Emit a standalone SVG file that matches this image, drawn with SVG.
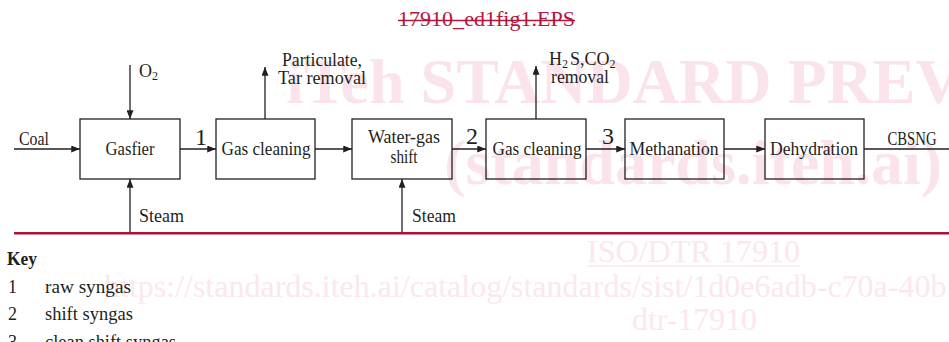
<svg xmlns="http://www.w3.org/2000/svg" width="949" height="342" viewBox="0 0 949 342">
<style>
.wm{font-family:"Liberation Serif","Times New Roman",serif;fill:#fae3ea;font-weight:bold;font-size:64px}
.wm2{font-family:"Liberation Serif","Times New Roman",serif;fill:#fce7ed;font-size:32px}
.t{font-family:"Liberation Serif","Times New Roman",serif;fill:#231f20;font-size:18px}
.num{font-family:"Liberation Serif","Times New Roman",serif;fill:#231f20;font-size:24px}
.box{fill:none;stroke:#231f20;stroke-width:1.3}
.ln{fill:none;stroke:#231f20;stroke-width:1.3}
</style>
<defs>
<marker id="ah" viewBox="0 0 10 8" refX="10" refY="4" markerWidth="9" markerHeight="7" markerUnits="userSpaceOnUse" orient="auto">
<path d="M0,0 L10,4 L0,8 Z" fill="#231f20"/>
</marker>
</defs>
<rect width="949" height="342" fill="#ffffff"/>
<g id="watermark">
<text class="wm" x="286" y="103">iTeh STANDARD PREVIEW</text>
<text class="wm" x="942" y="184" text-anchor="end">(standards.iteh.ai)</text>
<text class="wm2" x="587" y="262" textLength="213" lengthAdjust="spacingAndGlyphs">ISO/DTR 17910</text>
<line x1="587" y1="266" x2="800" y2="266" stroke="#fce7ed" stroke-width="1.5"/>
<text class="wm2" x="104" y="297">https://standards.iteh.ai/catalog/standards/sist/1d0e6adb-c70a-40b</text>
<text class="wm2" x="632" y="330" textLength="125" lengthAdjust="spacingAndGlyphs">dtr-17910</text>
</g>
<g id="title">
<text x="398" y="26" textLength="177" lengthAdjust="spacingAndGlyphs" style="font-family:'Liberation Serif',serif;font-size:20px;fill:#b5153d">17910_ed1fig1.EPS</text>
<line x1="398" y1="20.5" x2="575" y2="20.5" stroke="#b5153d" stroke-width="1.5"/>
</g>
<g id="connectors">
<line class="ln" x1="14" y1="149" x2="80" y2="149" marker-end="url(#ah)"/>
<line class="ln" x1="180" y1="149" x2="216" y2="149" marker-end="url(#ah)"/>
<line class="ln" x1="315" y1="149" x2="352" y2="149" marker-end="url(#ah)"/>
<line class="ln" x1="452" y1="149" x2="486" y2="149" marker-end="url(#ah)"/>
<line class="ln" x1="586" y1="149" x2="625" y2="149" marker-end="url(#ah)"/>
<line class="ln" x1="724" y1="149" x2="765" y2="149" marker-end="url(#ah)"/>
<line class="ln" x1="864" y1="149" x2="949" y2="149"/>
<line class="ln" x1="130" y1="65" x2="130" y2="119" marker-end="url(#ah)"/>
<line class="ln" x1="265" y1="119" x2="265" y2="67" marker-end="url(#ah)"/>
<line class="ln" x1="536" y1="119" x2="536" y2="66" marker-end="url(#ah)"/>
<line class="ln" x1="130" y1="232" x2="130" y2="179" marker-end="url(#ah)"/>
<line class="ln" x1="402" y1="232" x2="402" y2="179" marker-end="url(#ah)"/>
</g>
<g id="labels">
<text class="t" x="19" y="145" textLength="30" lengthAdjust="spacingAndGlyphs">Coal</text>
<text class="t" x="139" y="77">O<tspan font-size="12" dy="3">2</tspan></text>
<text class="t" x="322" y="66" text-anchor="middle" textLength="80" lengthAdjust="spacingAndGlyphs">Particulate,</text>
<text class="t" x="322" y="84" text-anchor="middle" textLength="88" lengthAdjust="spacingAndGlyphs">Tar removal</text>
<text class="t" x="549" y="65">H<tspan font-size="12" dy="3">2</tspan><tspan dy="-3" dx="2">S,CO</tspan><tspan font-size="12" dy="3">2</tspan></text>
<text class="t" x="580" y="83" text-anchor="middle" textLength="58" lengthAdjust="spacingAndGlyphs">removal</text>
<text class="t" x="139" y="222" textLength="45" lengthAdjust="spacingAndGlyphs">Steam</text>
<text class="t" x="412" y="222" textLength="44" lengthAdjust="spacingAndGlyphs">Steam</text>
<text class="t" x="912" y="145" text-anchor="middle" textLength="49" lengthAdjust="spacingAndGlyphs">CBSNG</text>
<text class="num" x="201" y="145" text-anchor="middle">1</text>
<text class="num" x="472" y="144" text-anchor="middle">2</text>
<text class="num" x="608" y="144" text-anchor="middle">3</text>
</g>
<g id="gasfier">
<rect class="box" x="80" y="119" width="100" height="60"/>
<text class="t" x="130" y="155" text-anchor="middle" textLength="49" lengthAdjust="spacingAndGlyphs">Gasfier</text>
</g>
<g id="gas-cleaning-1">
<rect class="box" x="216" y="119" width="99" height="60"/>
<text class="t" x="266" y="155" text-anchor="middle" textLength="89" lengthAdjust="spacingAndGlyphs">Gas cleaning</text>
</g>
<g id="water-gas-shift">
<rect class="box" x="352" y="119" width="100" height="60"/>
<text class="t" x="404" y="143" text-anchor="middle" textLength="72" lengthAdjust="spacingAndGlyphs">Water-gas</text>
<text class="t" x="404" y="163" text-anchor="middle" textLength="27" lengthAdjust="spacingAndGlyphs">shift</text>
</g>
<g id="gas-cleaning-2">
<rect class="box" x="486" y="119" width="100" height="60"/>
<text class="t" x="537" y="155" text-anchor="middle" textLength="89" lengthAdjust="spacingAndGlyphs">Gas cleaning</text>
</g>
<g id="methanation">
<rect class="box" x="625" y="119" width="99" height="60"/>
<text class="t" x="674" y="155" text-anchor="middle" textLength="89" lengthAdjust="spacingAndGlyphs">Methanation</text>
</g>
<g id="dehydration">
<rect class="box" x="765" y="119" width="99" height="60"/>
<text class="t" x="814" y="155" text-anchor="middle" textLength="88" lengthAdjust="spacingAndGlyphs">Dehydration</text>
</g>
<line id="rule" x1="14" y1="233.3" x2="949" y2="233.3" stroke="#b0103b" stroke-width="2.5"/>
<g id="key">
<text class="t" x="7" y="265" font-weight="bold" textLength="30" lengthAdjust="spacingAndGlyphs">Key</text>
<text class="t" x="8" y="293">1</text>
<text class="t" x="45" y="293" textLength="86" lengthAdjust="spacingAndGlyphs">raw syngas</text>
<text class="t" x="8" y="320">2</text>
<text class="t" x="45" y="320" textLength="88" lengthAdjust="spacingAndGlyphs">shift syngas</text>
<text class="t" x="8" y="348">3</text>
<text class="t" x="45" y="348" textLength="131" lengthAdjust="spacingAndGlyphs">clean shift syngas</text>
</g>
</svg>
